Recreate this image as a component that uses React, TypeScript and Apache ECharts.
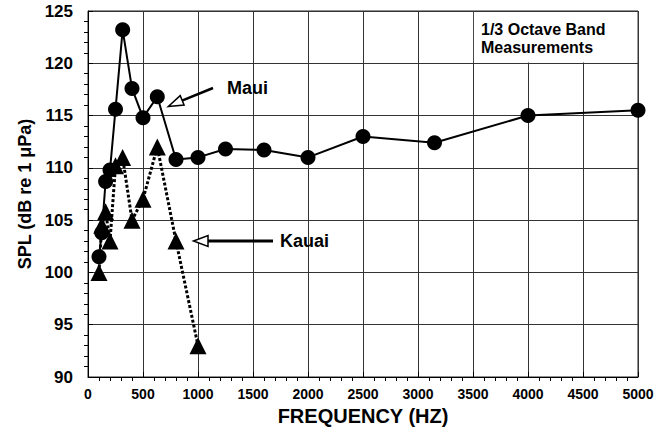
import React, { useEffect, useRef } from "react";
import * as echarts from "echarts";

const FONT = "'Liberation Sans', Arial, Helvetica, sans-serif";

// 1/3 octave band centre frequencies (Hz)
const mauiFreq = [100, 125, 160, 200, 250, 315, 400, 500, 630, 800, 1000, 1250, 1600, 2000, 2500, 3150, 4000, 5000];
const mauiSpl = [101.5, 103.8, 108.7, 109.8, 115.6, 123.2, 117.6, 114.8, 116.8, 110.8, 111.0, 111.8, 111.7, 111.0, 113.0, 112.4, 115.0, 115.5];

const kauaiFreq = [100, 125, 160, 200, 250, 315, 400, 500, 630, 800, 1000];
const kauaiSpl = [100.0, 104.5, 105.8, 103.0, 110.2, 111.0, 105.0, 107.0, 112.0, 103.0, 93.0];

const xTicks = [0, 500, 1000, 1500, 2000, 2500, 3000, 3500, 4000, 4500, 5000];
const yTicks = [90, 95, 100, 105, 110, 115, 120, 125];

export default function App() {
  const ref = useRef<HTMLDivElement>(null);
  useEffect(() => {
    if (!ref.current) return;
    const chart = echarts.init(ref.current, undefined, { renderer: "svg" });
    const maui = mauiFreq.map((f, i) => [f, mauiSpl[i]]);
    const kauai = kauaiFreq.map((f, i) => [f, kauaiSpl[i]]);
    chart.setOption({
      animation: false,
      backgroundColor: "#fff",
      textStyle: { fontFamily: FONT },
      grid: {
        left: 88,
        top: 11,
        right: 25,
        bottom: 57,
        show: true,
        borderColor: "#222",
        borderWidth: 1,
        backgroundColor: "transparent",
      },
      xAxis: {
        type: "value",
        min: xTicks[0],
        max: xTicks[xTicks.length - 1],
        interval: 500,
        name: "FREQUENCY (HZ)",
        nameLocation: "middle",
        nameGap: 27,
        nameTextStyle: { fontFamily: FONT, fontWeight: "bold", fontSize: 20, color: "#000" },
        axisLine: { show: true, lineStyle: { color: "#000", width: 1 } },
        axisTick: { show: true, inside: true, length: 5, lineStyle: { color: "#000" } },
        minorTick: { show: true, splitNumber: 5, length: -4, lineStyle: { color: "#000" } },
        axisLabel: {
          fontFamily: FONT,
          fontWeight: "bold",
          fontSize: 14,
          color: "#000",
          margin: 10,
          formatter: (v: number) => String(v),
        },
        splitLine: { show: true, lineStyle: { color: "#333", width: 1 } },
      },
      yAxis: {
        type: "value",
        min: yTicks[0],
        max: yTicks[yTicks.length - 1],
        interval: 5,
        name: "SPL (dB re 1 μPa)",
        nameLocation: "middle",
        nameGap: 48,
        nameRotate: 90,
        nameTextStyle: { fontFamily: FONT, fontWeight: "bold", fontSize: 18, color: "#000" },
        axisLine: { show: true, lineStyle: { color: "#000", width: 1 } },
        axisTick: { show: true, inside: true, length: 5, lineStyle: { color: "#000" } },
        minorTick: { show: true, splitNumber: 5, length: -4, lineStyle: { color: "#000" } },
        axisLabel: {
          fontFamily: FONT,
          fontWeight: "bold",
          fontSize: 17,
          color: "#000",
          margin: 15,
          formatter: (v: number) => String(v),
        },
        splitLine: { show: true, lineStyle: { color: "#333", width: 1 } },
      },
      series: [
        {
          name: "Maui",
          type: "line",
          data: maui,
          symbol: "circle",
          symbolSize: 15,
          itemStyle: { color: "#000" },
          lineStyle: { color: "#000", width: 2 },
          z: 3,
          markArea: {
            silent: true,
            itemStyle: { color: "#fff", borderWidth: 0 },
            data: [[{ coord: [3508, 124.9] }, { coord: [4992, 120.08] }]],
          },
        },
        {
          name: "Kauai",
          type: "line",
          data: kauai,
          symbol: "triangle",
          symbolSize: 17,
          itemStyle: { color: "#000" },
          lineStyle: { color: "#000", width: 3, type: [3, 2], cap: "butt" },
          z: 4,
        },
      ],
      graphic: [
        {
          type: "text",
          left: 481,
          top: 20,
          z: 100,
          style: {
            text: "1/3 Octave Band\nMeasurements",
            font: `bold 16px ${FONT}`,
            lineHeight: 18,
            fill: "#000",
          },
        },
        {
          type: "text",
          x: 227,
          y: 88,
          z: 100,
          style: {
            text: "Maui",
            font: `bold 18px ${FONT}`,
            fill: "#000",
            verticalAlign: "middle",
            align: "left",
          },
        },
        {
          type: "line",
          z: 100,
          shape: { x1: 182, y1: 100.7, x2: 213, y2: 88 },
          style: { stroke: "#000", lineWidth: 2.5 },
        },
        {
          type: "polygon",
          z: 101,
          shape: { points: [[168.3, 106.5], [184.1, 105], [180.2, 95.6]] },
          style: { fill: "#fff", stroke: "#000", lineWidth: 1.5 },
        },
        {
          type: "text",
          x: 280,
          y: 241,
          z: 100,
          style: {
            text: "Kauai",
            font: `bold 18px ${FONT}`,
            fill: "#000",
            verticalAlign: "middle",
            align: "left",
          },
        },
        {
          type: "line",
          z: 100,
          shape: { x1: 207, y1: 241, x2: 273, y2: 241 },
          style: { stroke: "#000", lineWidth: 3 },
        },
        {
          type: "polygon",
          z: 101,
          shape: { points: [[193.5, 241], [208, 235.5], [208, 246.5]] },
          style: { fill: "#fff", stroke: "#000", lineWidth: 1.5 },
        },
      ],
    });
    return () => chart.dispose();
  }, []);
  return <div ref={ref} style={{ width: 663, height: 434, position: "absolute", left: 0, top: 0 }} />;
}
